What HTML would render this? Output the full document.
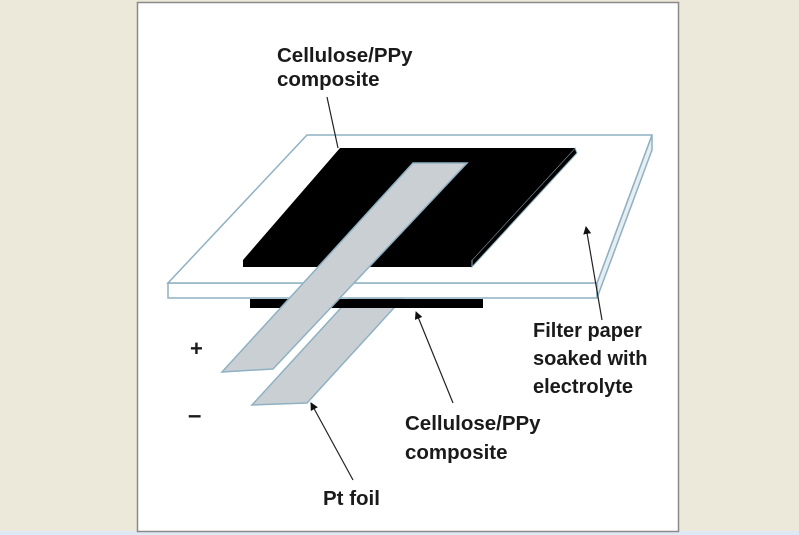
<!DOCTYPE html>
<html><head><style>
html,body{margin:0;padding:0;background:#ece8da;width:799px;height:535px;overflow:hidden}
svg{display:block}
text{font-family:"Liberation Sans",Arial,sans-serif;font-weight:bold;fill:#1a1a1a}
</style></head><body>
<svg width="799" height="535" viewBox="0 0 799 535" xmlns="http://www.w3.org/2000/svg">
<defs><marker id="a" markerWidth="8" markerHeight="8" refX="7" refY="4" orient="auto" markerUnits="userSpaceOnUse"><path d="M0,0 L8,4 L0,8 Z" fill="#111"/></marker></defs>
<rect x="0" y="531" width="799" height="4" fill="#dfe9f6"/>
<rect x="137.5" y="2.5" width="541" height="529" fill="#fff" stroke="#8a8a8a" stroke-width="1.5"/>
<!-- strip 2 (minus) under paper -->
<polygon points="350,298 403,298 307,403 252,405" fill="#c9cfd2" stroke="#8fb1c3" stroke-width="1.5"/>
<!-- bottom black -->
<polygon points="250,299 483,299 483,308 250,308" fill="#000"/>
<!-- paper -->
<polygon points="168,283 597,283 597,298 168,298" fill="#fff" stroke="#8fb1c3" stroke-width="1.5"/>
<polygon points="597,283 652,135 652,150 597,298" fill="#e6eef2" stroke="#8fb1c3" stroke-width="1.5"/>
<polygon points="307,135 652,135 597,283 168,283" fill="#fff" stroke="#8fb1c3" stroke-width="1.5"/>
<!-- top black -->
<polygon points="243,260 472,260 472,267 243,267" fill="#000"/>
<polygon points="472,260 575,148 577,153 472,267" fill="#000" stroke="#8fb1c3" stroke-width="1"/>
<polygon points="340,148 575,148 472,260 243,260" fill="#000"/>
<!-- strip 1 (plus) -->
<polygon points="413,163 467,163 273,369 222,372" fill="#c9cfd2" stroke="#8fb1c3" stroke-width="1.5"/>
<!-- leader lines -->
<g stroke="#222" stroke-width="1.2" fill="none">
<line x1="327" y1="97" x2="338" y2="148"/>
<line x1="602" y1="320" x2="586" y2="227" marker-end="url(#a)"/>
<line x1="453" y1="403" x2="416" y2="312" marker-end="url(#a)"/>
<line x1="353" y1="480" x2="311" y2="403" marker-end="url(#a)"/>
</g>
<g font-size="20.5">
<text x="277" y="62">Cellulose/PPy</text>
<text x="277" y="86">composite</text>
<text x="533" y="337" font-size="20">Filter paper</text>
<text x="533" y="365" font-size="20">soaked with</text>
<text x="533" y="393" font-size="20">electrolyte</text>
<text x="405" y="430">Cellulose/PPy</text>
<text x="405" y="459">composite</text>
<text x="323" y="505">Pt foil</text>
<text x="190" y="356" font-size="22">+</text>
<text x="188" y="423" font-size="24">–</text>
</g>
</svg>
</body></html>
